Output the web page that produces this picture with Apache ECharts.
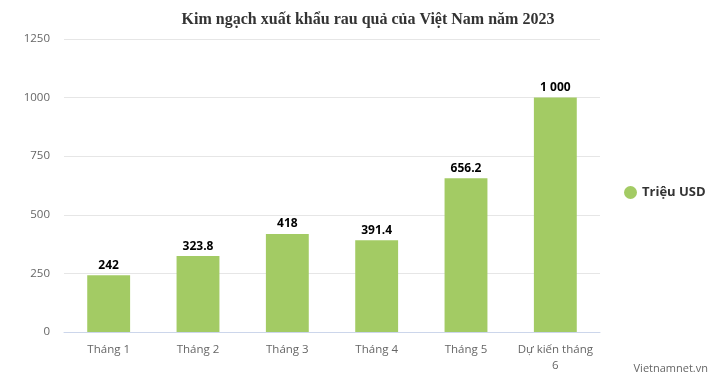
<!DOCTYPE html>
<html><head><meta charset="utf-8">
<script src="https://cdn.jsdelivr.net/npm/echarts@6/dist/echarts.min.js"></script>
<style>html,body{margin:0;padding:0;background:#fff}#c{width:720px;height:380px}</style>
</head><body><div id="c"></div>
<script>
var categories = ["Tháng 1", "Tháng 2", "Tháng 3", "Tháng 4", "Tháng 5", "Dự kiến tháng 6"];
var values = [242, 323.8, 418, 391.4, 656.2, 1000];
var seriesName = "Triệu USD";
var yTicks = [0, 250, 500, 750, 1000, 1250];

function fmt(v){
  var s = String(v).split('.');
  s[0] = s[0].replace(/\B(?=(\d{3})+(?!\d))/g, ' ');
  return s.join('.');
}
function wrapLabel(t){
  if (t.length <= 10) return t;
  var i = t.lastIndexOf(' ');
  return t.slice(0, i) + '\n' + t.slice(i + 1);
}
var chart = echarts.init(document.getElementById('c'), null, {renderer:'canvas'});
chart.setOption({
  animation:false,
  textStyle:{fontFamily:'"Open Sans", "Noto Sans", sans-serif'},
  title:{text:'Kim ngạch xuất khẩu rau quả của Việt Nam năm 2023', left:363, textAlign:'center', top:7,
    textStyle:{fontFamily:'"Liberation Serif", "DejaVu Serif", serif', fontWeight:'bold', fontSize:16, color:'#333'}},
  legend:{orient:'vertical', left:619, top:181, icon:'circle', itemWidth:13, itemHeight:13, itemGap:8,
    textStyle:{fontSize:13, fontWeight:'bold', color:'#333'}},
  grid:{left:64, right:120, top:39, bottom:48},
  xAxis:{type:'category', data:categories,
    axisLine:{lineStyle:{color:'#ccd6eb'}}, axisTick:{show:false},
    axisLabel:{color:'#666', fontSize:11.5, margin:10, interval:0, lineHeight:16, formatter:wrapLabel}},
  yAxis:{type:'value', min:yTicks[0], max:yTicks[yTicks.length-1], interval:250,
    axisLabel:{color:'#666', fontSize:11.5, margin:14, formatter:function(v){return String(v);}},
    splitLine:{lineStyle:{color:'#e6e6e6'}}, axisLine:{show:false}, axisTick:{show:false}},
  series:[{type:'bar', name:seriesName, data:values, barWidth:'48%',
    itemStyle:{color:'#a3cb64'},
    label:{show:true, position:'top', distance:4, color:'#000', fontWeight:'bold', fontSize:12,
      formatter:function(p){return fmt(p.value);}}}],
  graphic:[{type:'text', right:12, bottom:6, style:{text:'Vietnamnet.vn', fill:'#666', fontSize:11, fontFamily:'"Open Sans", sans-serif'}}]
});
</script></body></html>
